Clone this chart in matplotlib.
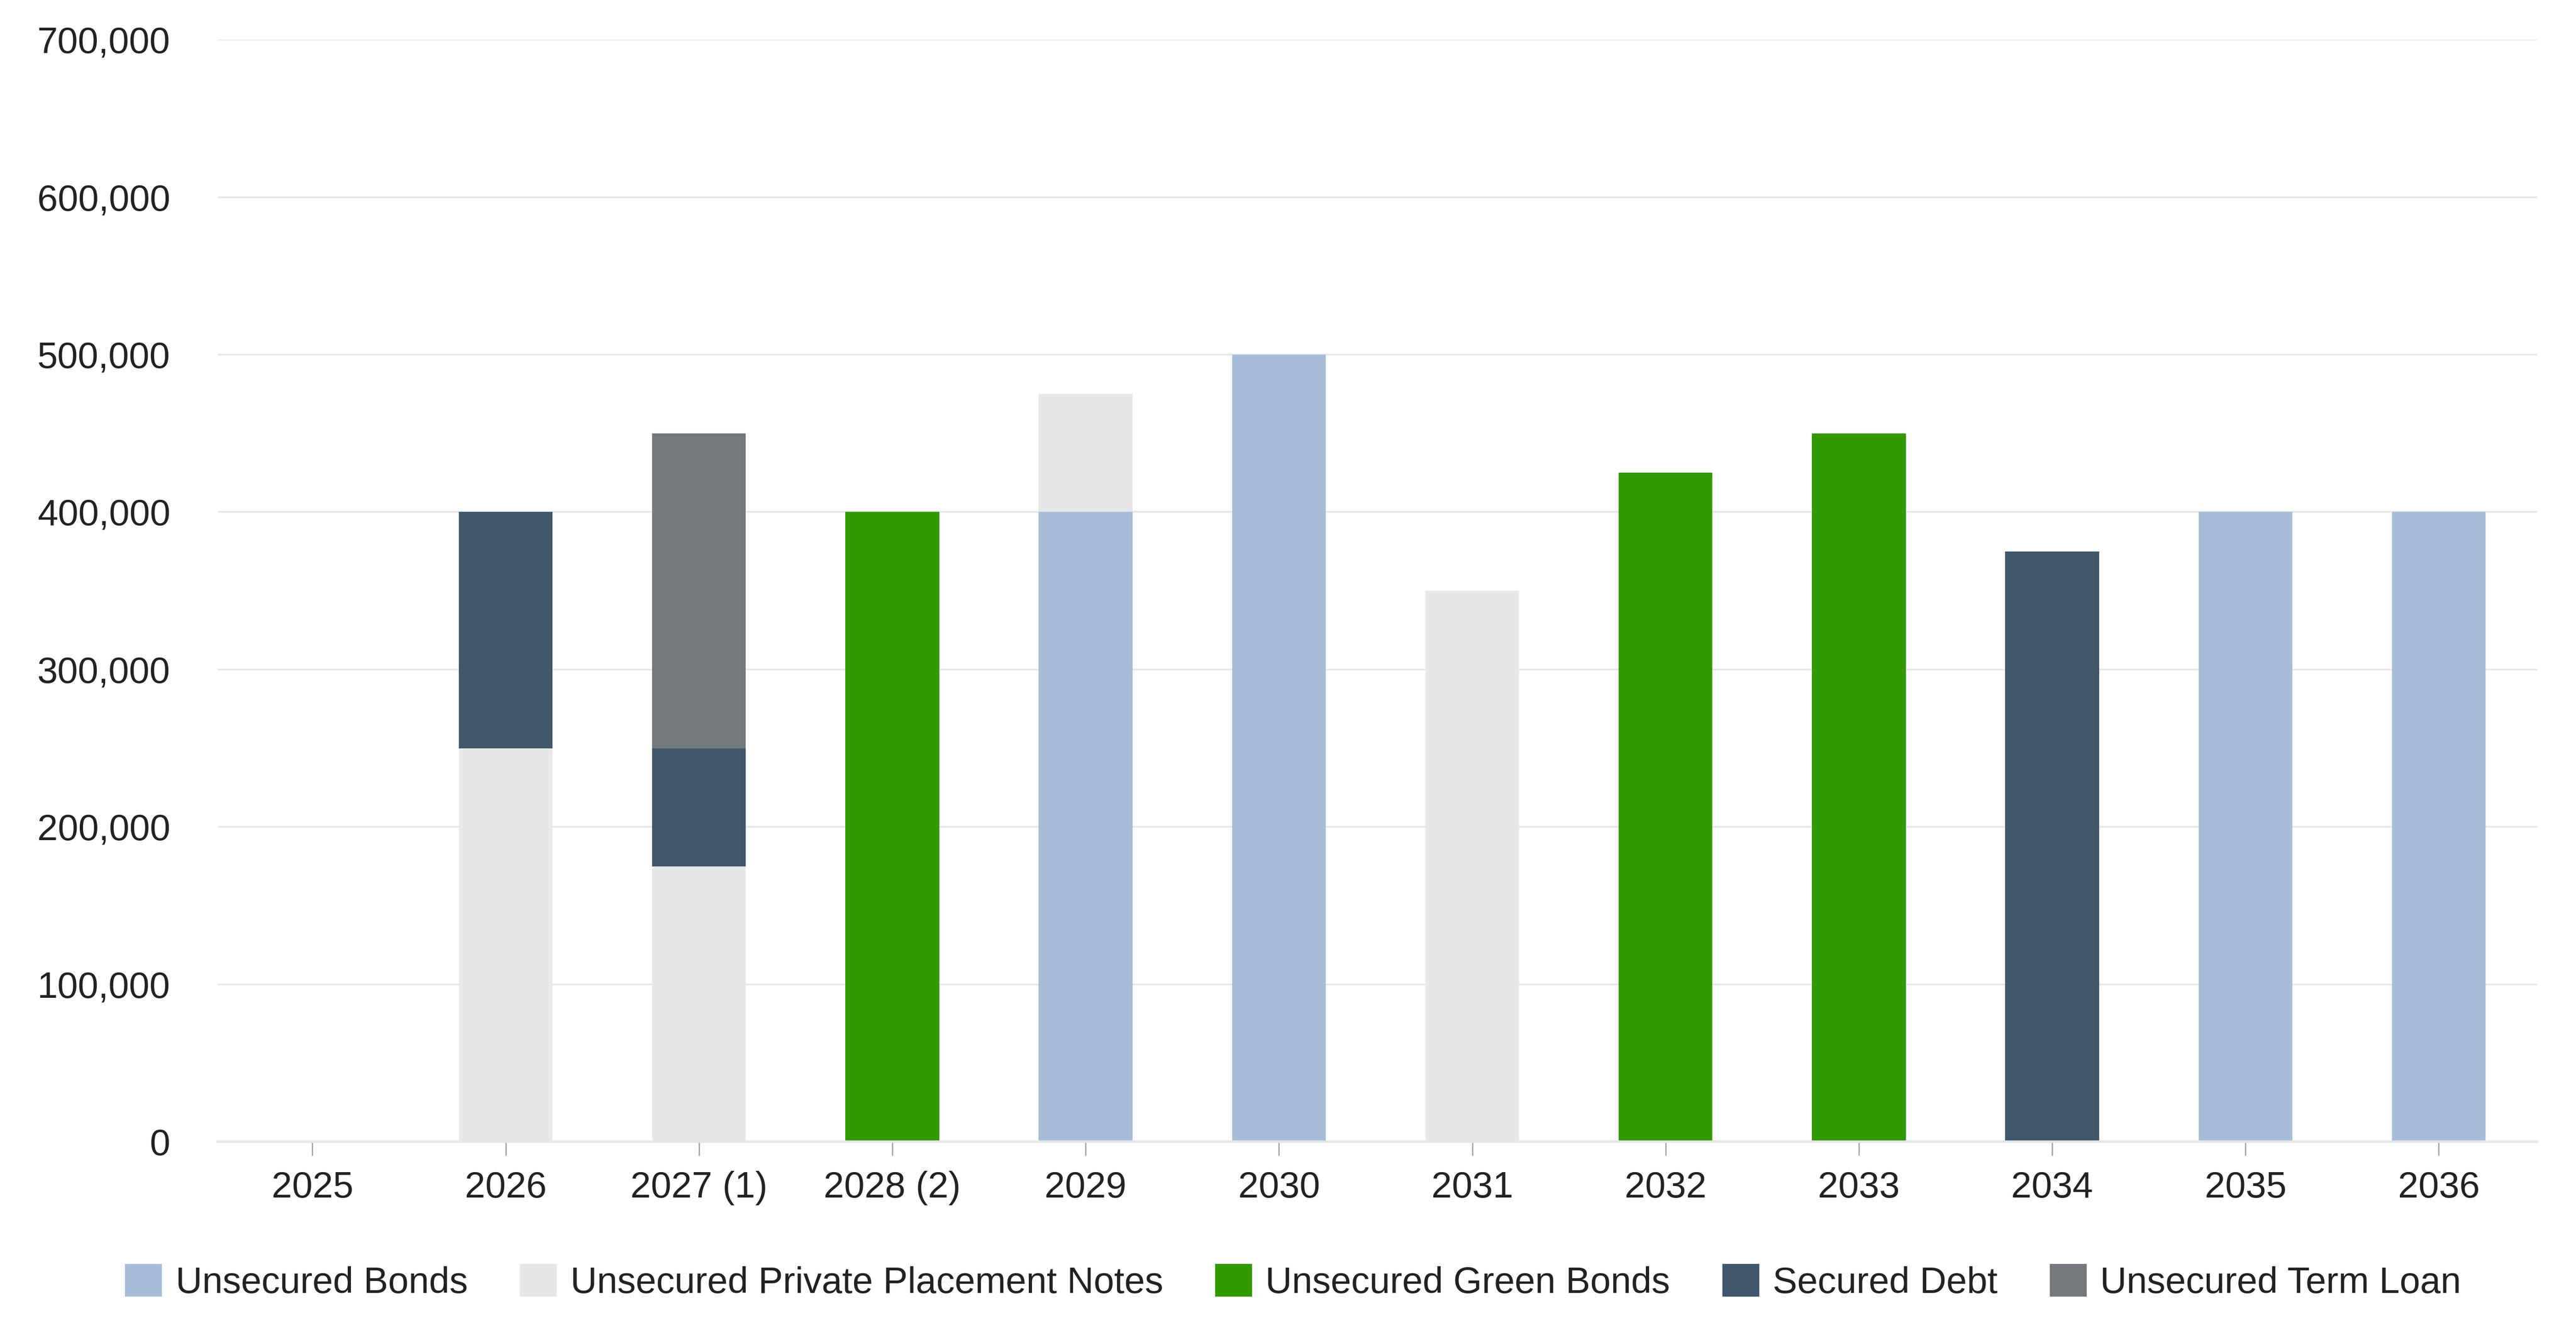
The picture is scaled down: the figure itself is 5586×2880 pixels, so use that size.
import numpy as np
import matplotlib.pyplot as plt
from matplotlib.ticker import FuncFormatter

plt.rcParams['font.family'] = ['Liberation Sans', 'DejaVu Sans']

# Data
years = ['2025', '2026', '2027 (1)', '2028 (2)', '2029', '2030',
         '2031', '2032', '2033', '2034', '2035', '2036']
unsecured_bonds = [0, 0, 0, 0, 400000, 500000, 0, 0, 0, 0, 400000, 400000]
private_placement = [0, 250000, 175000, 0, 75000, 0, 350000, 0, 0, 0, 0, 0]
green_bonds = [0, 0, 0, 400000, 0, 0, 0, 425000, 450000, 0, 0, 0]
secured_debt = [0, 150000, 75000, 0, 0, 0, 0, 0, 0, 375000, 0, 0]
term_loan = [0, 0, 200000, 0, 0, 0, 0, 0, 0, 0, 0, 0]

series = [
    ('Unsecured Bonds', unsecured_bonds, '#a7bcd7'),
    ('Unsecured Private Placement Notes', private_placement, '#e6e7e9'),
    ('Unsecured Green Bonds', green_bonds, '#339900'),
    ('Secured Debt', secured_debt, '#40566b'),
    ('Unsecured Term Loan', term_loan, '#75797c'),
]

fig = plt.figure(figsize=(27.93, 14.4), dpi=200)
ax = fig.add_axes([0.0845, 0.1403, 0.9005, 0.8297])

x = np.arange(len(years))
bottom = np.zeros(len(years))
for name, vals, color in series:
    vals = np.array(vals, dtype=float)
    ax.bar(x, vals, width=0.485, bottom=bottom, color=color, label=name,
           linewidth=0)
    bottom += vals

ax.set_xlim(-0.49, 11.51)
ax.set_ylim(0, 700000)
ax.set_yticks(np.arange(0, 700001, 100000))
ax.yaxis.set_major_formatter(FuncFormatter(lambda v, p: f'{int(v):,}'))
ax.set_xticks(x)
ax.set_xticklabels(years)

ax.set_axisbelow(True)
ax.grid(axis='y', color='#e6e6e6', linewidth=1.3)
for s in ['top', 'right', 'left']:
    ax.spines[s].set_visible(False)
ax.spines['bottom'].set_color('#e6e6e6')
ax.spines['bottom'].set_linewidth(2)
ax.spines['bottom'].set_zorder(3)

ax.tick_params(axis='y', length=0, pad=37, labelsize=28.7, labelcolor='#222222')
ax.tick_params(axis='x', length=10.8, width=0.9, color='#999999', pad=12,
               labelsize=28.7, labelcolor='#222222')

fig.legend(loc='center', bbox_to_anchor=(0.502, 0.0344), ncol=5, frameon=False,
           fontsize=28.7, handlelength=1.0, handleheight=1.0,
           handletextpad=0.37, columnspacing=1.42, labelcolor='#222222')

fig.savefig('out.png', dpi=200, facecolor='white')
